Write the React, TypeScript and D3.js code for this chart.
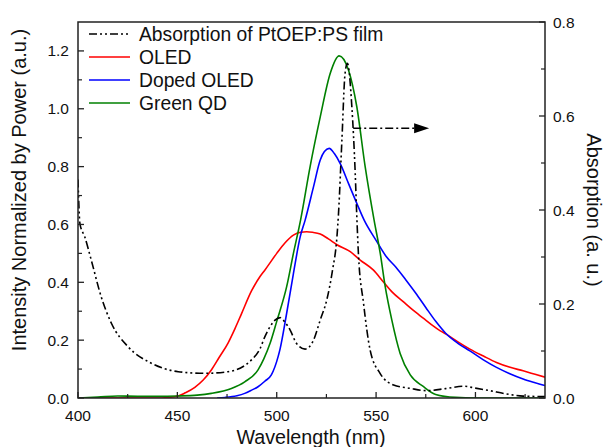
import React from "react";
import * as d3 from "d3";

const absWl = [400, 401, 403.4, 406.7, 411.7, 416.8, 425.2, 436.9, 450.4, 463.8, 475.5, 487.3, 491.6, 494, 496.7, 499, 501.7, 504, 506.7, 510, 514.3, 518.5, 521.9, 525.2, 528, 530.3, 531.1, 532.8, 534.4, 535.6, 537.8, 539.5, 540.3, 541.1, 543.7, 547, 552, 558.8, 567.2, 575.4, 585, 594, 600, 607.3, 615, 624, 635];
const absVal = [0.465, 0.37, 0.343, 0.293, 0.215, 0.159, 0.109, 0.074, 0.056, 0.0525, 0.056, 0.081, 0.105, 0.13, 0.152, 0.165, 0.171, 0.162, 0.145, 0.116, 0.104, 0.123, 0.166, 0.209, 0.27, 0.343, 0.393, 0.549, 0.691, 0.712, 0.62, 0.478, 0.386, 0.308, 0.201, 0.102, 0.0525, 0.0277, 0.0206, 0.0156, 0.02, 0.025, 0.021, 0.0156, 0.009, 0.004, 0.003];

const oledWl = [400, 420, 440, 445, 450.4, 454, 458.8, 463, 467.1, 471, 475.5, 479, 482.2, 487.3, 491.6, 494, 500, 504, 508.4, 512, 515.1, 518, 521.9, 526, 530.3, 537, 542, 548.7, 553.6, 558, 563.8, 568, 573.9, 578, 582.3, 585.5, 591, 597.2, 604, 610.6, 617, 624, 630, 635];
const oledVal = [0, 0, 0, 0.002, 0.007, 0.018, 0.037, 0.062, 0.097, 0.14, 0.19, 0.24, 0.29, 0.37, 0.42, 0.442, 0.5, 0.535, 0.563, 0.573, 0.575, 0.573, 0.567, 0.55, 0.53, 0.506, 0.477, 0.442, 0.402, 0.367, 0.332, 0.307, 0.275, 0.253, 0.232, 0.22, 0.195, 0.169, 0.145, 0.123, 0.107, 0.094, 0.082, 0.072];

const dopedWl = [470, 474, 480, 483.9, 487, 490.6, 494, 497.3, 500.7, 501.7, 505, 508.4, 511.8, 514.3, 518.5, 521.9, 524, 526.4, 529, 531.9, 536.1, 540.3, 544, 550, 555, 560, 565, 570, 575, 580, 585, 591, 597.2, 604, 610.6, 617, 624, 630, 635];
const dopedVal = [0, 0.002, 0.008, 0.016, 0.026, 0.039, 0.058, 0.08, 0.143, 0.17, 0.293, 0.43, 0.557, 0.615, 0.73, 0.823, 0.852, 0.863, 0.845, 0.811, 0.742, 0.673, 0.615, 0.545, 0.49, 0.452, 0.408, 0.362, 0.313, 0.265, 0.224, 0.19, 0.163, 0.132, 0.106, 0.085, 0.066, 0.053, 0.043];

const qdWl = [400, 410, 420, 430, 440, 450, 460, 467.1, 477.2, 483.9, 490.6, 493.5, 496.7, 500, 505, 508.4, 512, 516.8, 521.9, 526.9, 531.4, 536.1, 540.3, 544.5, 549, 552.1, 554.6, 557.9, 562.1, 567.2, 573.9, 580, 590, 600, 635];
const qdVal = [0, 0.003, 0.007, 0.006, 0.006, 0.007, 0.01, 0.016, 0.033, 0.056, 0.097, 0.135, 0.19, 0.265, 0.385, 0.5, 0.615, 0.8, 0.972, 1.122, 1.183, 1.134, 1.007, 0.8, 0.615, 0.5, 0.385, 0.27, 0.154, 0.08, 0.039, 0.012, 0.002, 0, 0];

const xTicks = [400, 450, 500, 550, 600];
const xMinor = [425, 475, 525, 575, 625];
const yLTicks = [0, 0.2, 0.4, 0.6, 0.8, 1.0, 1.2];
const yLMinor = [0.1, 0.3, 0.5, 0.7, 0.9, 1.1];
const yRTicks = [0, 0.2, 0.4, 0.6, 0.8];
const yRMinor = [0.1, 0.3, 0.5, 0.7];

const legendLabels = ["Absorption of PtOEP:PS film", "OLED", "Doped OLED", "Green QD"];
const legendColors = ["#000", "#ff0000", "#0000ff", "#008000"];

// arrow annotation (data coords: wavelength, right-axis absorption)
const arrowX = [538.5, 576.7];
const arrowY = 0.574;

const W = 606, H = 447;
const M = { left: 78, top: 22, right: 545, bottom: 398 };
const FONT = "'Liberation Sans', Arial, sans-serif";
const DASH = "8,3,2,3,2,3";

export default function App() {
  const x = d3.scaleLinear().domain([400, 635]).range([M.left, M.right]);
  const yL = d3.scaleLinear().domain([0, 1.3]).range([M.bottom, M.top]);
  const yR = d3.scaleLinear().domain([0, 0.8]).range([M.bottom, M.top]);

  const mk = (wl: number[], v: number[], ys: d3.ScaleLinear<number, number>) =>
    d3.line<number>().x((_, i) => x(wl[i])).y((d) => ys(d)).curve(d3.curveMonotoneX)(v) || "";

  const series = [
    { d: mk(oledWl, oledVal, yL), c: legendColors[1] },
    { d: mk(dopedWl, dopedVal, yL), c: legendColors[2] },
    { d: mk(qdWl, qdVal, yL), c: legendColors[3] },
  ];
  const absPath = mk(absWl, absVal, yR);

  const ay = yR(arrowY);
  const ax0 = x(arrowX[0]);
  const ax1 = x(arrowX[1]);

  return (
    <svg width={W} height={H} style={{ position: "absolute", left: 0, top: 0, background: "#fff" }} fontFamily={FONT}>
      <rect x={0} y={0} width={W} height={H} fill="#fff" />
      <defs>
        <clipPath id="plot">
          <rect x={M.left} y={M.top} width={M.right - M.left} height={M.bottom - M.top} />
        </clipPath>
      </defs>
      <g clipPath="url(#plot)">
        {series.map((s, i) => (
          <path key={i} d={s.d} fill="none" stroke={s.c} strokeWidth={1.6} />
        ))}
        <path d={absPath} fill="none" stroke="#000" strokeWidth={1.6} strokeDasharray={DASH} />
      </g>
      {/* arrow */}
      <line x1={ax0} x2={ax1 - 15} y1={ay} y2={ay} stroke="#000" strokeWidth={1.6} strokeDasharray="8,3,2,3" />
      <path d={`M${ax1 - 15},${ay - 5}L${ax1},${ay}L${ax1 - 15},${ay + 5}Z`} fill="#000" />

      {/* frame */}
      <rect x={M.left} y={M.top} width={M.right - M.left} height={M.bottom - M.top} fill="none" stroke="#222" strokeWidth={1.5} />

      {/* x ticks */}
      {xTicks.map((t) => (
        <g key={"x" + t}>
          <line x1={x(t)} x2={x(t)} y1={M.bottom} y2={M.bottom - 6} stroke="#222" strokeWidth={1.3} />
          <text x={x(t)} y={420.5} fontSize={15.5} textAnchor="middle" fill="#111">{t}</text>
        </g>
      ))}
      {xMinor.map((t) => (
        <line key={"xm" + t} x1={x(t)} x2={x(t)} y1={M.bottom} y2={M.bottom - 4} stroke="#222" strokeWidth={1.2} />
      ))}
      {/* left ticks */}
      {yLTicks.map((t) => (
        <g key={"l" + t}>
          <line x1={M.left} x2={M.left + 6} y1={yL(t)} y2={yL(t)} stroke="#222" strokeWidth={1.3} />
          <text x={69} y={yL(t) + 5.5} fontSize={15.5} textAnchor="end" fill="#111">{t.toFixed(1)}</text>
        </g>
      ))}
      {yLMinor.map((t) => (
        <line key={"lm" + t} x1={M.left} x2={M.left + 4} y1={yL(t)} y2={yL(t)} stroke="#222" strokeWidth={1.2} />
      ))}
      {/* right ticks */}
      {yRTicks.map((t) => (
        <g key={"r" + t}>
          <line x1={M.right} x2={M.right - 6} y1={yR(t)} y2={yR(t)} stroke="#222" strokeWidth={1.3} />
          <text x={553} y={yR(t) + 5.5} fontSize={15.5} textAnchor="start" fill="#111">{t.toFixed(1)}</text>
        </g>
      ))}
      {yRMinor.map((t) => (
        <line key={"rm" + t} x1={M.right} x2={M.right - 4} y1={yR(t)} y2={yR(t)} stroke="#222" strokeWidth={1.2} />
      ))}

      {/* axis titles */}
      <text x={311} y={444} fontSize={19.7} textAnchor="middle" fill="#111">Wavelength (nm)</text>
      <text transform={`translate(26,190) rotate(-90)`} fontSize={20} textAnchor="middle" fill="#111">
        Intensity Normalized by Power (a.u.)
      </text>
      <text transform={`translate(587,210) rotate(90)`} fontSize={20} textAnchor="middle" fill="#111">
        Absorption (a. u.)
      </text>

      {/* legend */}
      {legendLabels.map((l, i) => {
        const ly = 34 + i * 23;
        return (
          <g key={l}>
            <line x1={89} x2={130} y1={ly} y2={ly} stroke={legendColors[i]} strokeWidth={1.6} strokeDasharray={i === 0 ? DASH : undefined} />
            <text x={139} y={ly + 7} fontSize={19.3} fill="#111">{l}</text>
          </g>
        );
      })}
    </svg>
  );
}
